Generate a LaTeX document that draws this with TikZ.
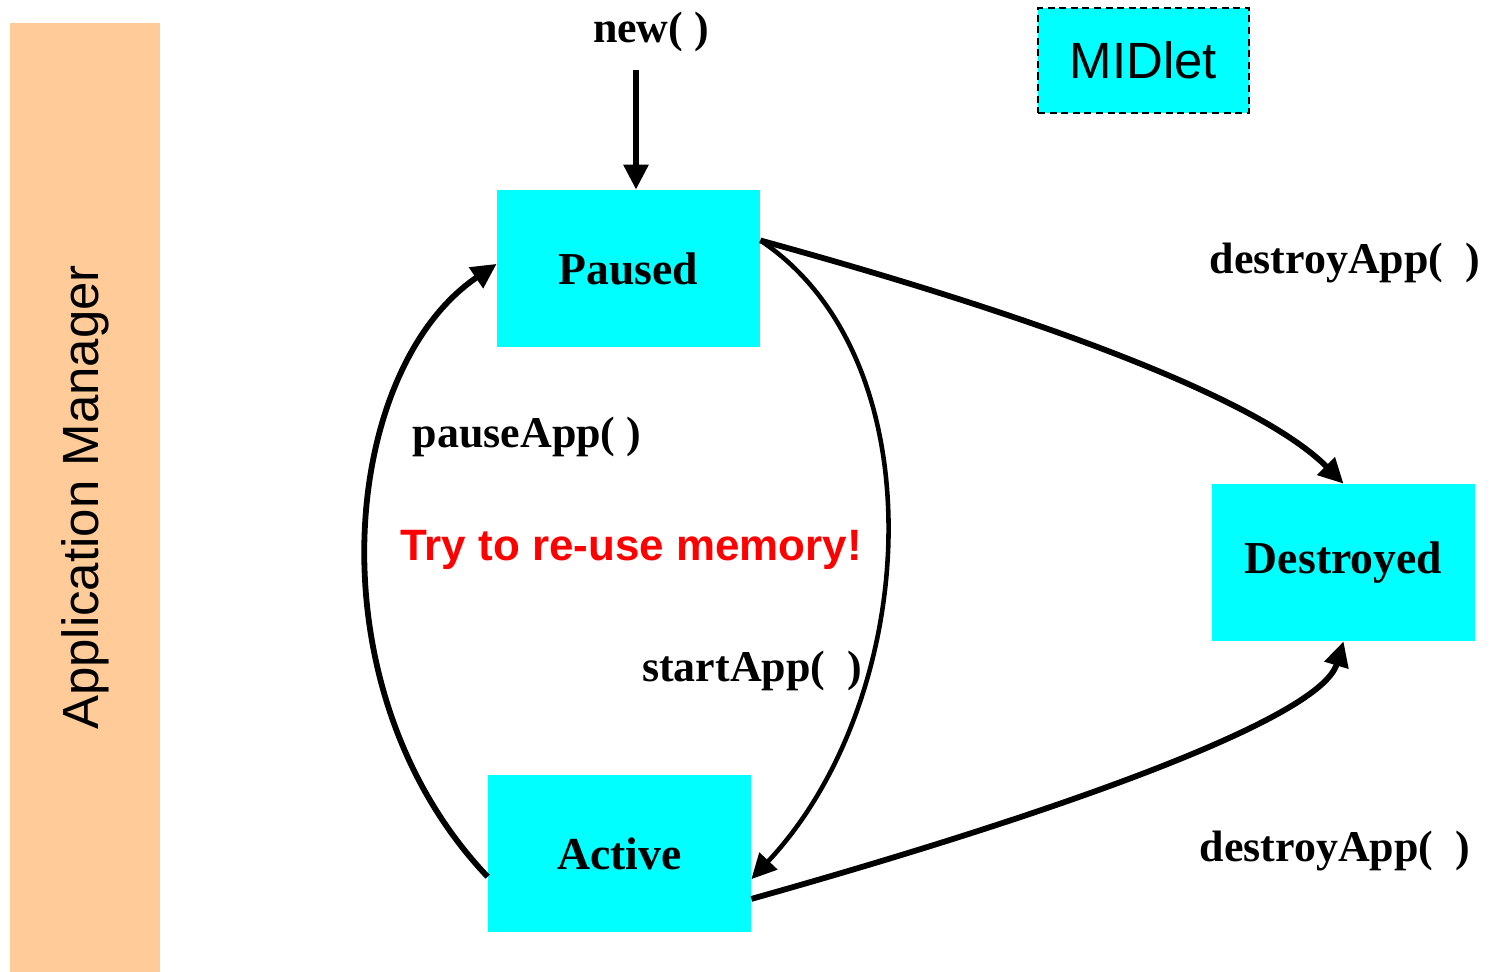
\documentclass[tikz,border=0pt]{standalone}
\usepackage{fontspec}
\setmainfont{Liberation Serif}
\setsansfont{Liberation Sans}
\usetikzlibrary{arrows.meta, positioning, calc}
\definecolor{midcyan}{HTML}{00FFFF}
\definecolor{mgrpeach}{HTML}{FFCC99}
\tikzset{
    state/.style={rectangle, fill=midcyan, minimum width=5.26cm, minimum height=3.14cm, align=center, font=\fontsize{26}{30}\selectfont\bfseries},
    call/.style={font=\fontsize{25}{30}\selectfont\bfseries},
    arrow/.style={line width=3.3pt, -{Triangle[length=0.5cm, width=0.48cm]}},
    thinarrow/.style={arrow, line width=2.6pt}
}

\begin{document}
\begin{tikzpicture}
            \useasboundingbox (0,0) rectangle (29.86,-19.44);
            % manager bar on the left
            \node[rotate=90, fill=mgrpeach, minimum width=18.98cm, minimum height=3cm, font=\sffamily\fontsize{29}{34}\selectfont] (appmgr) at (1.7,-9.95) {Application Manager};
            \node[fill=midcyan, draw, dash pattern=on 4pt off 2.6pt, line width=1.2pt, minimum width=4.22cm, minimum height=2.1cm, font=\sffamily\fontsize{29}{34}\selectfont] (midlet) at (22.87,-1.21) {MIDlet};

            \node[state] (paused) at (12.57,-5.37) {Paused};
            \node[state] (active) at (12.39,-17.07) {Active};
            \node[state] (destroyed) at (26.87,-11.25) {Destroyed};

            \node[call] (newcall) at (13.02,-0.64) {new( )};
            \coordinate (newtop) at (12.72,-1.4);
            \node[call] (pausecall) at (10.54,-8.74) {pauseApp( )};
            \node[call] (startcall) at (15.04,-13.42) {startApp(\ \ )};
            \node[call] (destroytop) at (26.9,-5.26) {destroyApp(\ \ )};
            \node[call] (destroybot) at (26.7,-17.02) {destroyApp(\ \ )};
            \node[text=red, font=\sffamily\bfseries\fontsize{25}{30}\selectfont] (hint) at (12.62,-11.0) {Try to re-use memory!};

            \draw[arrow] (newtop) -- (paused.north -| newtop);
            \draw[arrow] (paused.12) .. controls (21,-6.4) and (25.2,-8.0) .. (destroyed.north);
            \draw[thinarrow] (paused.12) .. controls (18.8,-7.2) and (18.4,-14.0) .. (active.-11);
            \draw[arrow] (active.190) .. controls (6.2,-13.8) and (6.8,-7.4) .. (paused.178);
            \draw[arrow] (active.-19) .. controls (21,-16.3) and (26.4,-14.4) .. (destroyed.south);
        \end{tikzpicture}
\end{document}
